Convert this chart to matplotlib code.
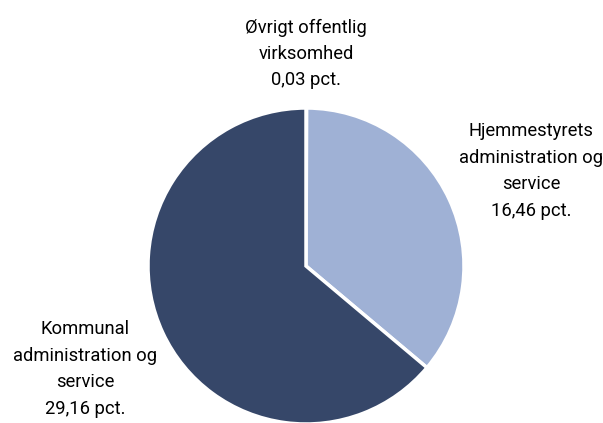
import matplotlib
matplotlib.use("Agg")
import matplotlib.pyplot as plt

labels = ["Øvrigt offentlig\nvirksomhed\n0,03 pct.",
          "Hjemmestyrets\nadministration og\nservice\n16,46 pct.",
          "Kommunal\nadministration og\nservice\n29,16 pct."]
values = [0.03, 16.46, 29.16]
colors = ["#9fb1d5", "#9fb1d5", "#364769"]

plt.rcParams['font.family'] = ['Roboto', 'DejaVu Sans']

fig = plt.figure(figsize=(6.03, 4.23), dpi=100)
ax = fig.add_axes([0, 0, 1, 1])

ax.pie(values, colors=colors, startangle=90, counterclock=False,
       center=(306, 157), radius=158,
       wedgeprops=dict(edgecolor='white', linewidth=2.5))

# pie() resets the limits, so set them afterwards
ax.set_xlim(0, 603)
ax.set_ylim(0, 423)
ax.set_aspect('equal')
ax.axis('off')

fs = 13.2
ax.text(306, 369, labels[0], ha='center', va='center', fontsize=fs, linespacing=1.6)
ax.text(531, 252, labels[1], ha='center', va='center', fontsize=fs, linespacing=1.6)
ax.text(85, 54, labels[2], ha='center', va='center', fontsize=fs, linespacing=1.6)

fig.savefig("out.png", dpi=100)
